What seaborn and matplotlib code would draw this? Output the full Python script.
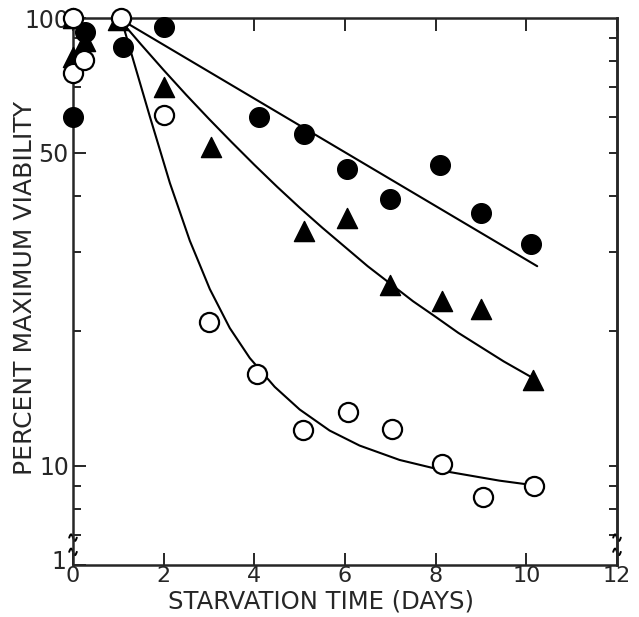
import numpy as np
import matplotlib
matplotlib.use("Agg")
import matplotlib.pyplot as plt
import matplotlib.transforms as mtransforms
import seaborn as sns

# points: starvation time (days) vs percent maximum viability
days_filled = [0.0, 0.26, 0.12, 1.1, 2.0, 4.1, 5.1, 6.05, 7.0, 8.1, 9.0, 10.1]
viab_filled = [60, 93, 80, 86, 95.5, 60, 55, 46, 39.5, 47, 36.6, 31.2]

days_tri = [0.0, 0.0, 0.26, 1.0, 2.0, 3.05, 5.1, 6.05, 7.0, 8.15, 9.0, 10.15]
viab_tri = [100, 82, 89, 99, 70, 51.5, 33.5, 35.7, 25.3, 23.3, 22.4, 15.5]

days_open = [0.0, 0.0, 0.24, 1.05, 2.0, 3.0, 4.05, 5.07, 6.06, 7.03, 8.15, 9.05, 10.18]
viab_open = [100, 75.5, 80.5, 100, 60.6, 20.9, 16.0, 12.0, 13.2, 12.1, 10.1, 8.5, 9.0]

# fitted curves as drawn in the figure
fit_days_filled = [1.0, 10.24]
fit_filled = [100, 27.9]

fit_days_tri = [1.0, 1.5, 2.0, 2.5, 3.0, 3.5, 4.0, 4.5, 5.0, 5.5, 6.0, 6.5,
                7.0, 7.5, 8.0, 8.5, 9.0, 9.5, 10.24]
fit_tri = [100, 87.3, 76.5, 67.3, 59.5, 52.8, 47.0, 42.0, 37.7, 34.0, 30.8,
           27.9, 25.5, 23.3, 21.5, 19.8, 18.4, 17.1, 15.5]

fit_days_open = [1.057, 1.256, 1.476, 1.696, 1.916, 2.137, 2.357, 2.577, 2.797,
                 3.018, 3.458, 3.899, 4.449, 5.0, 5.661, 6.322, 7.203, 8.304,
                 9.405, 10.176]
fit_open = [100, 85.4, 71.7, 60.2, 50.8, 42.8, 36.9, 31.8, 28.1, 24.8, 20.3,
            17.4, 15.0, 13.35, 11.98, 11.09, 10.3, 9.68, 9.26, 9.04]

x_ticks = [0, 2, 4, 6, 8, 10, 12]
y_major = [6, 10, 50, 100]
y_major_labels = ["1", "10", "50", "100"]
y_minor = [7, 8, 9, 20, 30, 40, 60, 70, 80, 90]

sns.set_style("ticks")
plt.rcParams["font.family"] = ["DejaVu Sans"]

fig = plt.figure(figsize=(6.39, 6.17), dpi=100)
ax = fig.add_axes([73 / 639, 1 - 565 / 617, 544 / 639, 547 / 617])
ax.set_yscale("log")

lw = 1.5
for fx, fy in [(fit_days_filled, fit_filled), (fit_days_tri, fit_tri),
               (fit_days_open, fit_open)]:
    sns.lineplot(x=fx, y=fy, ax=ax, color="black", lw=lw, sort=False,
                 estimator=None)

sns.scatterplot(x=days_filled, y=viab_filled, ax=ax, marker="o", s=200,
                color="black", edgecolor="black", linewidth=1, clip_on=False, zorder=3)
sns.scatterplot(x=days_tri, y=viab_tri, ax=ax, marker="^", s=210,
                color="black", edgecolor="black", linewidth=1, clip_on=False, zorder=3)
sns.scatterplot(x=days_open, y=viab_open, ax=ax, marker="o", s=190,
                color="white", edgecolor="black", linewidth=1.6, clip_on=False, zorder=4)

ax.set_xlim(0, 12)
ax.set_ylim(6, 100)

ax.set_xticks(x_ticks)
ax.set_xticklabels([str(t) for t in x_ticks])
ax.set_yticks(y_major)
ax.set_yticklabels(y_major_labels)
ax.set_yticks(y_minor, minor=True)
ax.yaxis.set_minor_formatter(matplotlib.ticker.NullFormatter())

ax.tick_params(axis="both", which="major", direction="in", length=9, width=1.4,
               labelsize=17, top=True, right=True, pad=3)
ax.tick_params(axis="x", which="major", pad=1, labelsize=16)
ax.tick_params(axis="y", which="major", right=False)
ax.tick_params(axis="y", which="minor", direction="in", length=6, width=1.4,
               right=True, left=True)
ax.tick_params(axis="x", which="minor", bottom=False, top=False)

for s in ax.spines.values():
    s.set_linewidth(1.8)

# right-hand ticks are all short, so mirror the major positions by hand
sec = ax.secondary_yaxis("right")
sec.set_yticks([10, 50])
sec.set_yticklabels([])
sec.yaxis.set_minor_locator(matplotlib.ticker.NullLocator())
sec.tick_params(direction="in", length=6, width=1.4)
sec.spines["right"].set_linewidth(1.8)

# lift the "1" label into the broken corner
for lbl in ax.get_yticklabels():
    if lbl.get_text() == "1":
        lbl.set_transform(lbl.get_transform() + mtransforms.ScaledTranslation(
            -2 / 72, 4 / 72, fig.dpi_scale_trans))

ax.set_xlabel("STARVATION TIME (DAYS)", fontsize=17.5)
ax.set_ylabel("PERCENT MAXIMUM VIABILITY", fontsize=18)
ax.xaxis.set_label_coords(0.456, -0.044)
ax.yaxis.set_label_coords(-0.066, 0.507)

# axis-break squiggles on the left and right spines
t = np.linspace(0, 1, 30)
wig_x = (t - 0.5) * 0.014
wig_y = 0.006 * np.sin(2 * np.pi * t)
for xs in (0.0, 1.0):
    for yb in (0.05, 0.024):
        ax.plot(xs + wig_x, yb + wig_y, transform=ax.transAxes, color="black",
                lw=1.4, clip_on=False)

fig.savefig("out.png", dpi=100)
